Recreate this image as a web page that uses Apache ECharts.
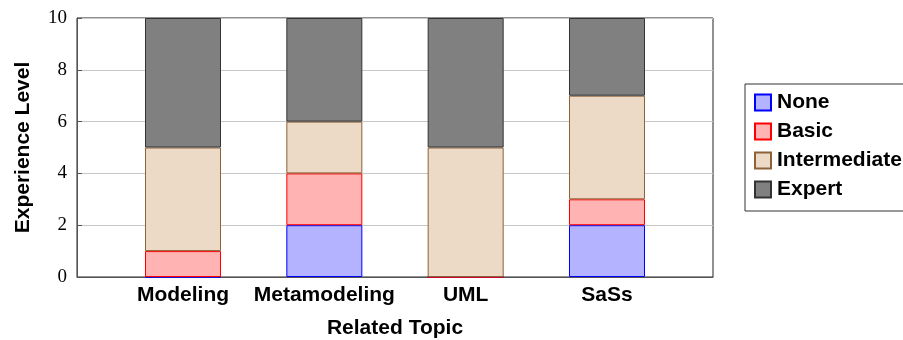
<!DOCTYPE html>
<html><head><meta charset="utf-8">
<script src="https://cdn.jsdelivr.net/npm/echarts@6/dist/echarts.min.js"></script>
<style>html,body{margin:0;padding:0;background:#fff}#c{width:903px;height:340px}</style>
</head><body><div id="c"></div>
<script>
const categories = ['Modeling', 'Metamodeling', 'UML', 'SaSs'];
const noneVals = [0, 2, 0, 2];
const basicVals = [1, 2, 0, 1];
const intermediateVals = [4, 2, 5, 4];
const expertVals = [5, 4, 5, 3];
const yTicks = [0, 2, 4, 6, 8, 10];

const chart = echarts.init(document.getElementById('c'));
const mk = (name, vals, fill, stroke) => ({
  name, type: 'bar', stack: 'all', barWidth: 76,
  xAxisIndex: 1, yAxisIndex: 1,
  data: vals,
  itemStyle: { color: fill, borderColor: stroke, borderWidth: 1 },
  emphasis: { disabled: true }
});
const sans = 'Liberation Sans, Arial, sans-serif';
const serif = 'Liberation Serif, DejaVu Serif, serif';
const band = 636 / 4.5;
chart.setOption({
  animation: false,
  grid: [
    { left: 77, top: 18, width: 636, height: 259, show: true, borderColor: '#222', borderWidth: 1, backgroundColor: 'transparent', containLabel: false, outerBoundsMode: 'none' },
    { left: 77 + 0.25 * band, top: 18, width: 4 * band, height: 259, containLabel: false, outerBoundsMode: 'none' }
  ],
  xAxis: [{
    gridIndex: 0, type: 'value', min: 0, max: 1,
    axisLine: { show: true, onZero: false, lineStyle: { color: '#555' } },
    axisTick: { show: false }, splitLine: { show: false }, axisLabel: { show: false }
  }, {
    gridIndex: 1, type: 'category', data: categories,
    name: 'Related Topic', nameLocation: 'middle', nameGap: 41,
    nameTextStyle: { fontFamily: sans, fontWeight: 'bold', fontSize: 21, color: '#000' },
    axisLine: { show: false }, axisTick: { show: false }, splitLine: { show: false },
    axisLabel: { interval: 0, margin: 8, fontFamily: sans, fontWeight: 'bold', fontSize: 21, color: '#000' }
  }],
  yAxis: [{
    gridIndex: 0, type: 'value', min: 0, max: 10, interval: 2,
    name: 'Experience Level', nameLocation: 'middle', nameGap: 43,
    nameTextStyle: { fontFamily: sans, fontWeight: 'bold', fontSize: 21, color: '#000' },
    axisLine: { show: true, onZero: false, lineStyle: { color: '#555' } },
    axisTick: { show: true, inside: true, length: 5, lineStyle: { color: '#555' } },
    splitLine: { show: true, lineStyle: { color: '#c8c8c8' } },
    axisLabel: { fontFamily: serif, fontSize: 19, color: '#000', margin: 10 }
  }, {
    gridIndex: 1, type: 'value', min: 0, max: 10, show: false
  }],
  legend: {
    orient: 'vertical', left: 745, top: 84,
    padding: [8, 200, 11, 9],
    borderColor: '#333', borderWidth: 1, backgroundColor: '#fff',
    itemWidth: 16, itemHeight: 16, itemGap: 8,
    icon: 'rect',
    textStyle: { fontFamily: sans, fontWeight: 'bold', fontSize: 21, color: '#000', padding: [0, 0, 0, 1] },
    data: ['None', 'Basic', 'Intermediate', 'Expert']
  },
  series: [
    mk('None', noneVals, '#b3b3ff', '#0000ff'),
    mk('Basic', basicVals, '#ffb3b3', '#ff0000'),
    mk('Intermediate', intermediateVals, '#ecd9c6', '#8c6239'),
    mk('Expert', expertVals, '#808080', '#333333')
  ]
});
</script></body></html>
